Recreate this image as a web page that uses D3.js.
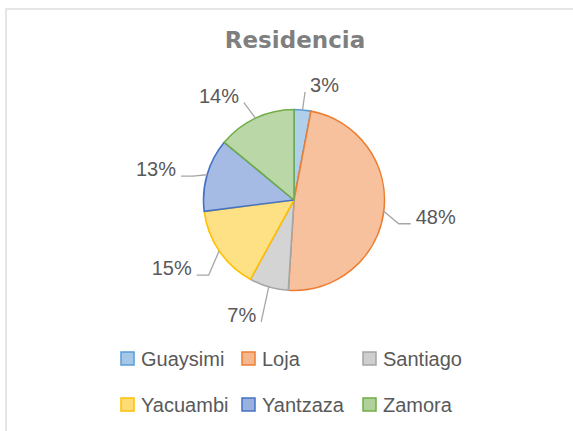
<!DOCTYPE html>
<html>
<head>
<meta charset="utf-8">
<script src="https://cdn.jsdelivr.net/npm/d3@7"></script>
<style>
  body { margin: 0; background: #fff; }
  svg { display: block; }
</style>
</head>
<body>
<svg id="chart" width="573" height="431"></svg>
<script>
// pie of "Residencia" - values are percents
const categories = ["Guaysimi", "Loja", "Santiago", "Yacuambi", "Yantzaza", "Zamora"];
const values = [3, 48, 7, 15, 13, 14];
const valueLabels = ["3%", "48%", "7%", "15%", "13%", "14%"];
const title = "Residencia";

// office theme colours, one per category
const lineColors = ["#5b9bd5", "#ed7d31", "#a5a5a5", "#ffc000", "#4472c4", "#70ad47"];

const W = 573, H = 431;
const cx = 294, cy = 200, r = 90.5;

const svg = d3.select("#chart");

// chart area border (runs off the right and bottom edge)
svg.append("rect")
  .attr("x", 6).attr("y", 9)
  .attr("width", W + 20).attr("height", H + 20)
  .attr("fill", "#fff")
  .attr("stroke", "#d9d9d9")
  .attr("stroke-width", 1.3);

svg.append("text")
  .attr("x", 295).attr("y", 48)
  .attr("text-anchor", "middle")
  .attr("font-family", "DejaVu Sans")
  .attr("font-weight", "bold")
  .attr("font-size", 23)
  .attr("fill", "#7f7f7f")
  .text(title);

const color = d3.scaleOrdinal().domain(categories).range(lineColors);
const tint = (c, t) => d3.interpolateRgb(c, "#ffffff")(t);

// light vertical gradient on each slice
const defs = svg.append("defs");
categories.forEach((c, i) => {
  const g = defs.append("linearGradient")
    .attr("id", "grad" + i)
    .attr("gradientUnits", "userSpaceOnUse")
    .attr("x1", 0).attr("y1", cy - r)
    .attr("x2", 0).attr("y2", cy + r);
  g.append("stop").attr("offset", "0%").attr("stop-color", tint(color(c), 0.52));
  g.append("stop").attr("offset", "100%").attr("stop-color", tint(color(c), 0.34));
});

const pie = d3.pie().sort(null).value(d => d);
const arcs = pie(values);

const arc = d3.arc().innerRadius(0).outerRadius(r);
const edgeArc = d3.arc().innerRadius(r).outerRadius(r);
const labelArc = d3.arc().innerRadius(r * 1.3).outerRadius(r * 1.3);

const g = svg.append("g").attr("transform", `translate(${cx},${cy})`);

g.selectAll("path.slice")
  .data(arcs)
  .join("path")
  .attr("class", "slice")
  .attr("d", arc)
  .attr("fill", (d, i) => `url(#grad${i})`)
  .attr("stroke", (d, i) => color(categories[i]))
  .attr("stroke-width", 1.6)
  .attr("stroke-linejoin", "round");

// leader lines + labels
const fontSize = 20;
arcs.forEach((d, i) => {
  const mid = (d.startAngle + d.endAngle) / 2;
  const side = Math.sin(mid) >= 0 ? 1 : -1;
  const [ex, ey] = edgeArc.centroid(d);
  const [px, py] = labelArc.centroid(d);
  const base = py + 9;
  const pts = [[ex, ey]];
  if (Math.abs(Math.sin(mid)) > 0.5) pts.push([px - side * 12, base]);
  pts.push([px, base]);

  g.append("path")
    .attr("d", d3.line()(pts))
    .attr("fill", "none")
    .attr("stroke", "#a6a6a6")
    .attr("stroke-width", 1.3);

  g.append("text")
    .attr("x", px + side * 5)
    .attr("y", base)
    .attr("text-anchor", side > 0 ? "start" : "end")
    .attr("font-family", "Liberation Sans, Arial, sans-serif")
    .attr("font-size", fontSize)
    .attr("fill", "#595959")
    .text(valueLabels[i]);
});

// legend: 3 columns, 2 rows
const colX = d3.scalePoint().domain([0, 1, 2]).range([121, 363]);
const rowY = d3.scalePoint().domain([0, 1]).range([352, 398]);
const box = 13;

const leg = svg.append("g")
  .selectAll("g")
  .data(categories)
  .join("g")
  .attr("transform", (c, i) => `translate(${colX(i % 3)},${rowY(Math.floor(i / 3))})`);

leg.append("rect")
  .attr("width", box).attr("height", box)
  .attr("fill", c => tint(color(c), 0.45))
  .attr("stroke", c => color(c))
  .attr("stroke-width", 1.5);

leg.append("text")
  .attr("x", box + 7)
  .attr("y", box + 1)
  .attr("font-family", "Liberation Sans, Arial, sans-serif")
  .attr("font-size", fontSize)
  .attr("fill", "#595959")
  .text(c => c);
</script>
</body>
</html>
